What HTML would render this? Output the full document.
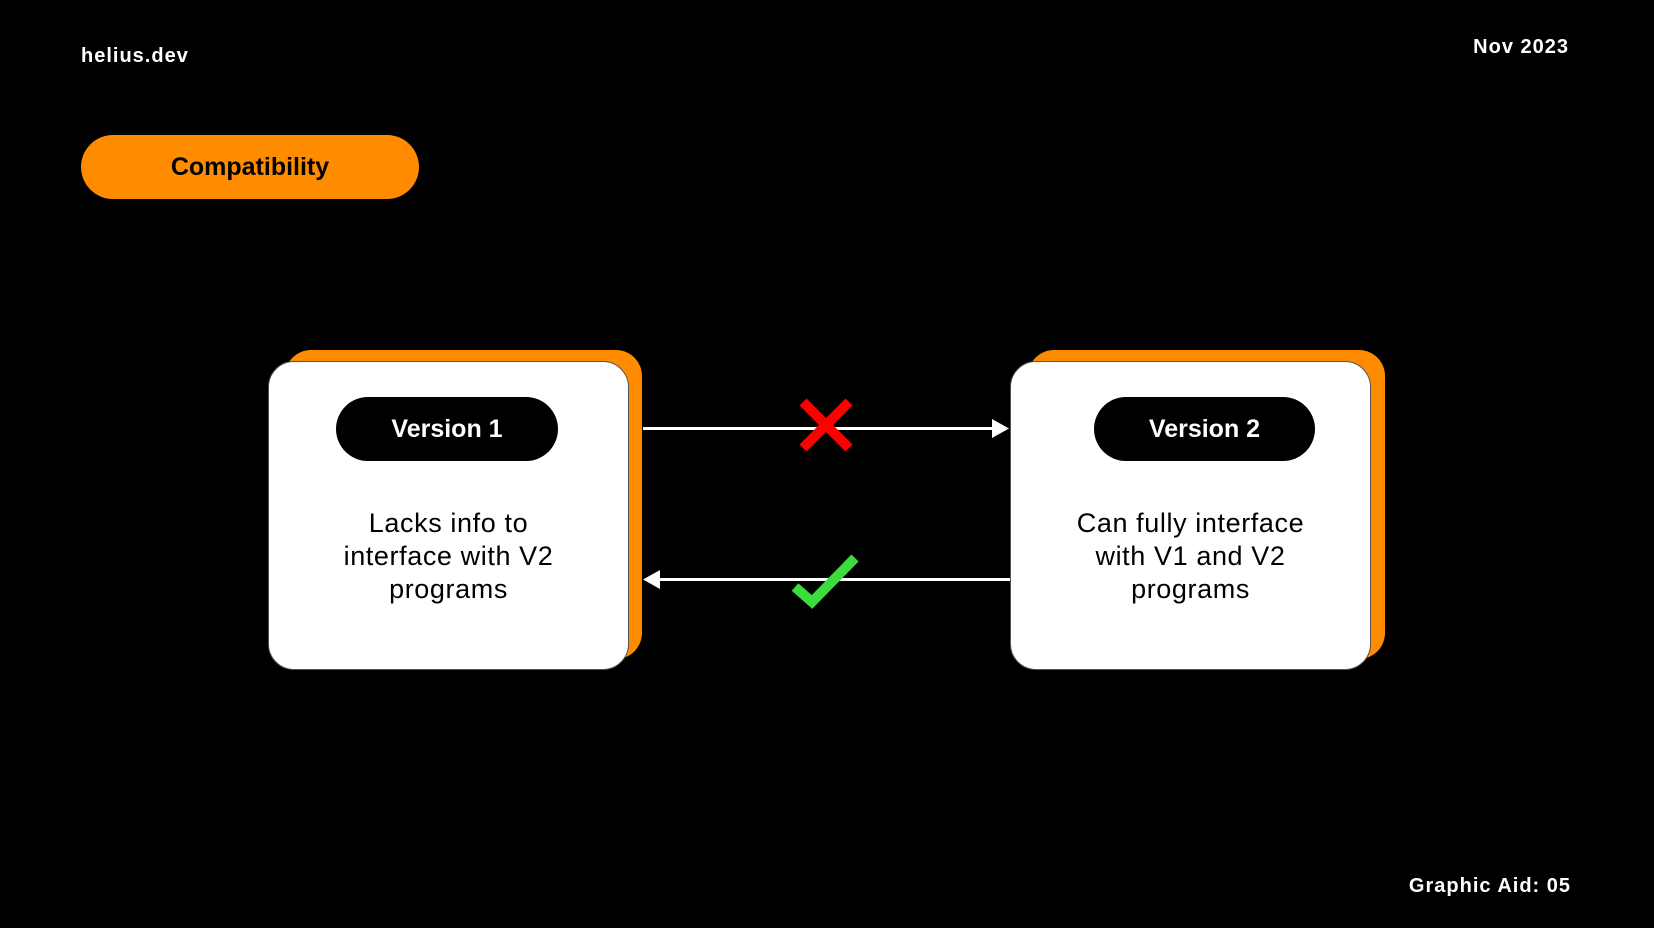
<!DOCTYPE html>
<html><head><meta charset="utf-8"><style>
html,body{margin:0;padding:0;background:#000;}
body{width:1654px;height:928px;position:relative;overflow:hidden;font-family:"Liberation Sans",sans-serif;}
.t{position:absolute;color:#fff;font-weight:bold;white-space:nowrap;letter-spacing:1px;}
.back{position:absolute;background:#ff8c00;border-radius:26px;}
.card{position:absolute;background:#fff;border-radius:26px;border:1px solid #555;box-sizing:border-box;}
.pill{position:absolute;background:#000;border-radius:32px;color:#fff;font-weight:bold;font-size:25px;display:flex;align-items:center;justify-content:center;}
.txt{position:absolute;color:#000;font-size:27px;line-height:33px;text-align:center;letter-spacing:0.6px;white-space:nowrap;}
</style></head><body>
<div class="t" style="left:81px;top:45px;font-size:20px;">helius.dev</div>
<div class="t" style="right:85px;top:36px;font-size:20px;">Nov 2023</div>
<div class="t" style="right:83px;top:875px;font-size:20px;">Graphic Aid: 05</div>
<div style="position:absolute;left:81px;top:135px;width:338px;height:64px;border-radius:32px;background:#ff8c00;display:flex;align-items:center;justify-content:center;font-weight:bold;font-size:25px;color:#000;">Compatibility</div>

<div class="back" style="left:285px;top:350px;width:357px;height:309px;"></div>
<div class="card" style="left:268px;top:361px;width:361px;height:309px;"></div>
<div class="pill" style="left:336px;top:397px;width:222px;height:64px;">Version 1</div>
<div class="txt" style="left:268px;top:507px;width:361px;">Lacks info to<br>interface with V2<br>programs</div>

<div class="back" style="left:1028px;top:350px;width:357px;height:309px;"></div>
<div class="card" style="left:1010px;top:361px;width:361px;height:309px;"></div>
<div class="pill" style="left:1094px;top:397px;width:221px;height:64px;">Version 2</div>
<div class="txt" style="left:1010px;top:507px;width:361px;">Can fully interface<br>with V1 and V2<br>programs</div>

<svg width="1654" height="928" style="position:absolute;left:0;top:0;">
<line x1="643" y1="428.5" x2="995" y2="428.5" stroke="#fff" stroke-width="3"/>
<polygon points="1009,428.5 992,419 992,438" fill="#fff"/>
<line x1="655" y1="579.5" x2="1010" y2="579.5" stroke="#fff" stroke-width="3"/>
<polygon points="643,579.5 660,570 660,589" fill="#fff"/>
<g stroke="#f00" stroke-width="10" stroke-linecap="butt">
<line x1="803" y1="402" x2="849" y2="448"/>
<line x1="849" y1="402" x2="803" y2="448"/>
</g>
<polyline points="795,587 812,602 855,558" fill="none" stroke="#3ddc3d" stroke-width="10"/>
</svg>
</body></html>
